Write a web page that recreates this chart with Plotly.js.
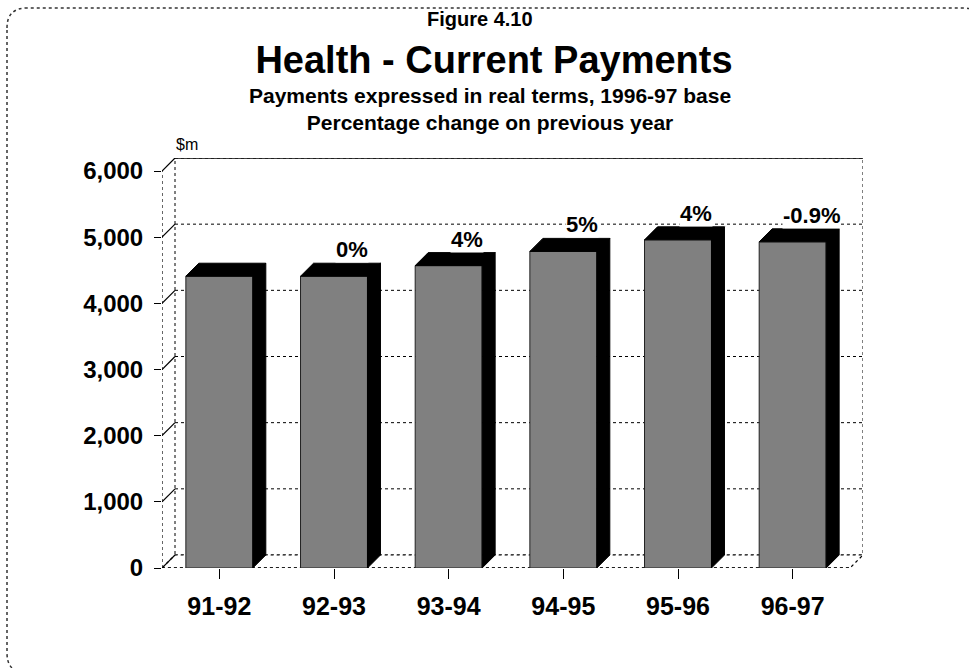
<!DOCTYPE html>
<html>
<head>
<meta charset="utf-8">
<script src="https://cdn.plot.ly/plotly-3.0.1.min.js"></script>
<style>
  html, body { margin: 0; padding: 0; background: #ffffff; }
  #chart { width: 969px; height: 668px; }
</style>
</head>
<body>
<div id="chart"></div>
<script>
// ---- data ----
const categories = ['91-92', '92-93', '93-94', '94-95', '95-96', '96-97'];
const payments = [4410, 4410, 4570, 4785, 4960, 4930];
const changeLabels = ['', '0%', '4%', '5%', '4%', '-0.9%'];
const yTicks = [0, 1000, 2000, 3000, 4000, 5000, 6000];
const yTickText = ['0', '1,000', '2,000', '3,000', '4,000', '5,000', '6,000'];

// ---- geometry / style ----
const W = 969, H = 668;
const M = { l: 162, r: 106, t: 158, b: 100 };
const plotW = W - M.l - M.r, plotH = H - M.t - M.b;
const DEPTH = 13;                       // 3D depth in pixels
const nCat = categories.length;
const yMax = yTicks[yTicks.length - 1];
const catPx = (plotW - DEPTH) / nCat;
const valPx = (plotH - DEPTH) / yMax;
const dx = DEPTH / catPx;               // depth in x data units
const dv = DEPTH / valPx;               // depth in y data units
const BAR_W = 0.584;
const FONT = 'Liberation Sans, Arial, Helvetica, sans-serif';
const xMin = -0.5, xMax = nCat - 0.5;

const px2paperX = p => (p - M.l) / plotW;
const px2paperY = p => (H - M.b - p) / plotH;

const xIdx = categories.map((c, i) => i);

// bar front faces
const barTrace = {
  type: 'bar', x: xIdx, y: payments, width: BAR_W,
  marker: { color: '#808080', line: { color: '#222222', width: 1 } },
  hoverinfo: 'skip', showlegend: false
};

// top and side faces (black)
const fx = [], fy = [];
payments.forEach((v, i) => {
  const l = i - BAR_W / 2, r = i + BAR_W / 2;
  fx.push(l, l + dx, r + dx, r, l, null);
  fy.push(v, v + dv, v + dv, v, v, null);
  fx.push(r, r + dx, r + dx, r, r, null);
  fy.push(0, dv, v + dv, v, 0, null);
});
const faceTrace = {
  type: 'scatter', mode: 'lines', x: fx, y: fy, fill: 'toself',
  fillcolor: '#000000', line: { color: '#000000', width: 1 },
  hoverinfo: 'skip', showlegend: false
};

// ---- walls, floor, grid ----
const dotLine = { color: '#000000', width: 1, dash: 'dot' };
const shapes = [];
shapes.push({ type: 'rect', xref: 'x', yref: 'y', layer: 'below',
  x0: xMin + dx, x1: xMax + dx, y0: dv, y1: yMax + dv, line: dotLine, fillcolor: 'rgba(0,0,0,0)' });
yTicks.slice(1, -1).forEach(t => {
  shapes.push({ type: 'line', xref: 'x', yref: 'y', layer: 'below',
    x0: xMin + dx, x1: xMax + dx, y0: t + dv, y1: t + dv, line: dotLine });
});
shapes.push({ type: 'line', xref: 'x', yref: 'y', layer: 'below',
  x0: xMin + dx, x1: xMax + dx, y0: yMax + dv, y1: yMax + dv, line: { color: '#000', width: 1.5 } });
shapes.push({ type: 'path', xref: 'x', yref: 'y', layer: 'below',
  path: `M ${xMin} 0 L ${xMin + dx} ${dv} L ${xMax + dx} ${dv} L ${xMax} 0 Z`,
  fillcolor: '#ffffff', line: { color: '#000000', width: 1.2, dash: 'dot' } });
yTicks.forEach(t => {
  shapes.push({ type: 'line', xref: 'x', yref: 'y', layer: 'below',
    x0: xMin, x1: xMin + dx, y0: t, y1: t + dv, line: { color: '#000', width: 1.2 } });
});
shapes.push({ type: 'line', xref: 'x', yref: 'y', layer: 'below',
  x0: xMin, x1: xMin, y0: 0, y1: yMax, line: { color: '#000', width: 1.2, dash: 'dot' } });
shapes.push({ type: 'line', xref: 'x', yref: 'y', layer: 'below',
  x0: xMin, x1: xMax, y0: 0, y1: 0, line: { color: '#000', width: 1.5, dash: 'dot' } });

// rounded outer frame (pixel -> paper)
(function () {
  const L = 7, T = 8, R = 983, B = 673, rad = 20;
  const X = p => px2paperX(p), Y = p => px2paperY(p);
  const path = `M ${X(L)} ${Y(T + rad)} Q ${X(L)} ${Y(T)} ${X(L + rad)} ${Y(T)} ` +
    `L ${X(R - rad)} ${Y(T)} Q ${X(R)} ${Y(T)} ${X(R)} ${Y(T + rad)} ` +
    `L ${X(R)} ${Y(B - rad)} Q ${X(R)} ${Y(B)} ${X(R - rad)} ${Y(B)} ` +
    `L ${X(L + rad)} ${Y(B)} Q ${X(L)} ${Y(B)} ${X(L)} ${Y(B - rad)} Z`;
  shapes.push({ type: 'path', xref: 'paper', yref: 'paper', layer: 'below', path,
    line: { color: '#333333', width: 1.5, dash: 'dot' }, fillcolor: 'rgba(0,0,0,0)' });
})();

// ---- annotations ----
const annotations = [];
const boldFont = (s) => ({ family: FONT, size: s, color: '#000', weight: 'bold' });
annotations.push({ xref: 'paper', yref: 'paper', x: px2paperX(480), y: px2paperY(19),
  text: 'Figure 4.10', showarrow: false, font: boldFont(20), xanchor: 'center', yanchor: 'middle' });
annotations.push({ xref: 'paper', yref: 'paper', x: px2paperX(490), y: px2paperY(109),
  text: 'Payments expressed in real terms, 1996-97 base<br>Percentage change on previous year',
  showarrow: false, font: boldFont(21), xanchor: 'center', yanchor: 'middle', align: 'center' });
annotations.push({ xref: 'paper', yref: 'paper', x: px2paperX(187), y: px2paperY(144),
  text: '$m', showarrow: false, font: { family: FONT, size: 16, color: '#000' }, xanchor: 'center', yanchor: 'middle' });
changeLabels.forEach((t, i) => {
  if (!t) return;
  annotations.push({ xref: 'x', yref: 'y', x: i + 0.16, y: payments[i] + dv,
    text: t, showarrow: false, font: boldFont(22), xanchor: 'center', yanchor: 'bottom',
    bgcolor: '#ffffff', borderpad: 0, yshift: 0 });
});

const layout = {
  width: W, height: H,
  margin: M,
  paper_bgcolor: '#ffffff', plot_bgcolor: 'rgba(0,0,0,0)',
  showlegend: false,
  title: { text: 'Health - Current Payments', font: boldFont(38),
    xref: 'container', yref: 'container', x: 494 / W, y: 1 - 60 / H, xanchor: 'center', yanchor: 'middle' },
  xaxis: {
    range: [xMin, xMax + dx], tickmode: 'array', tickvals: xIdx, ticktext: categories,
    showgrid: false, zeroline: false, showline: false,
    ticks: 'outside', ticklen: 10, tickcolor: '#000', tickwidth: 1,
    tickfont: boldFont(25), ticklabelstandoff: 6, fixedrange: true
  },
  yaxis: {
    range: [0, yMax + dv], tickmode: 'array', tickvals: yTicks, ticktext: yTickText,
    showgrid: false, zeroline: false, showline: false,
    ticks: 'outside', ticklen: 7, tickcolor: '#000', tickwidth: 1,
    tickfont: boldFont(24), ticklabelstandoff: 6, fixedrange: true
  },
  shapes, annotations
};

Plotly.newPlot('chart', [barTrace, faceTrace], layout, { staticPlot: true, displayModeBar: false });
</script>
</body>
</html>
